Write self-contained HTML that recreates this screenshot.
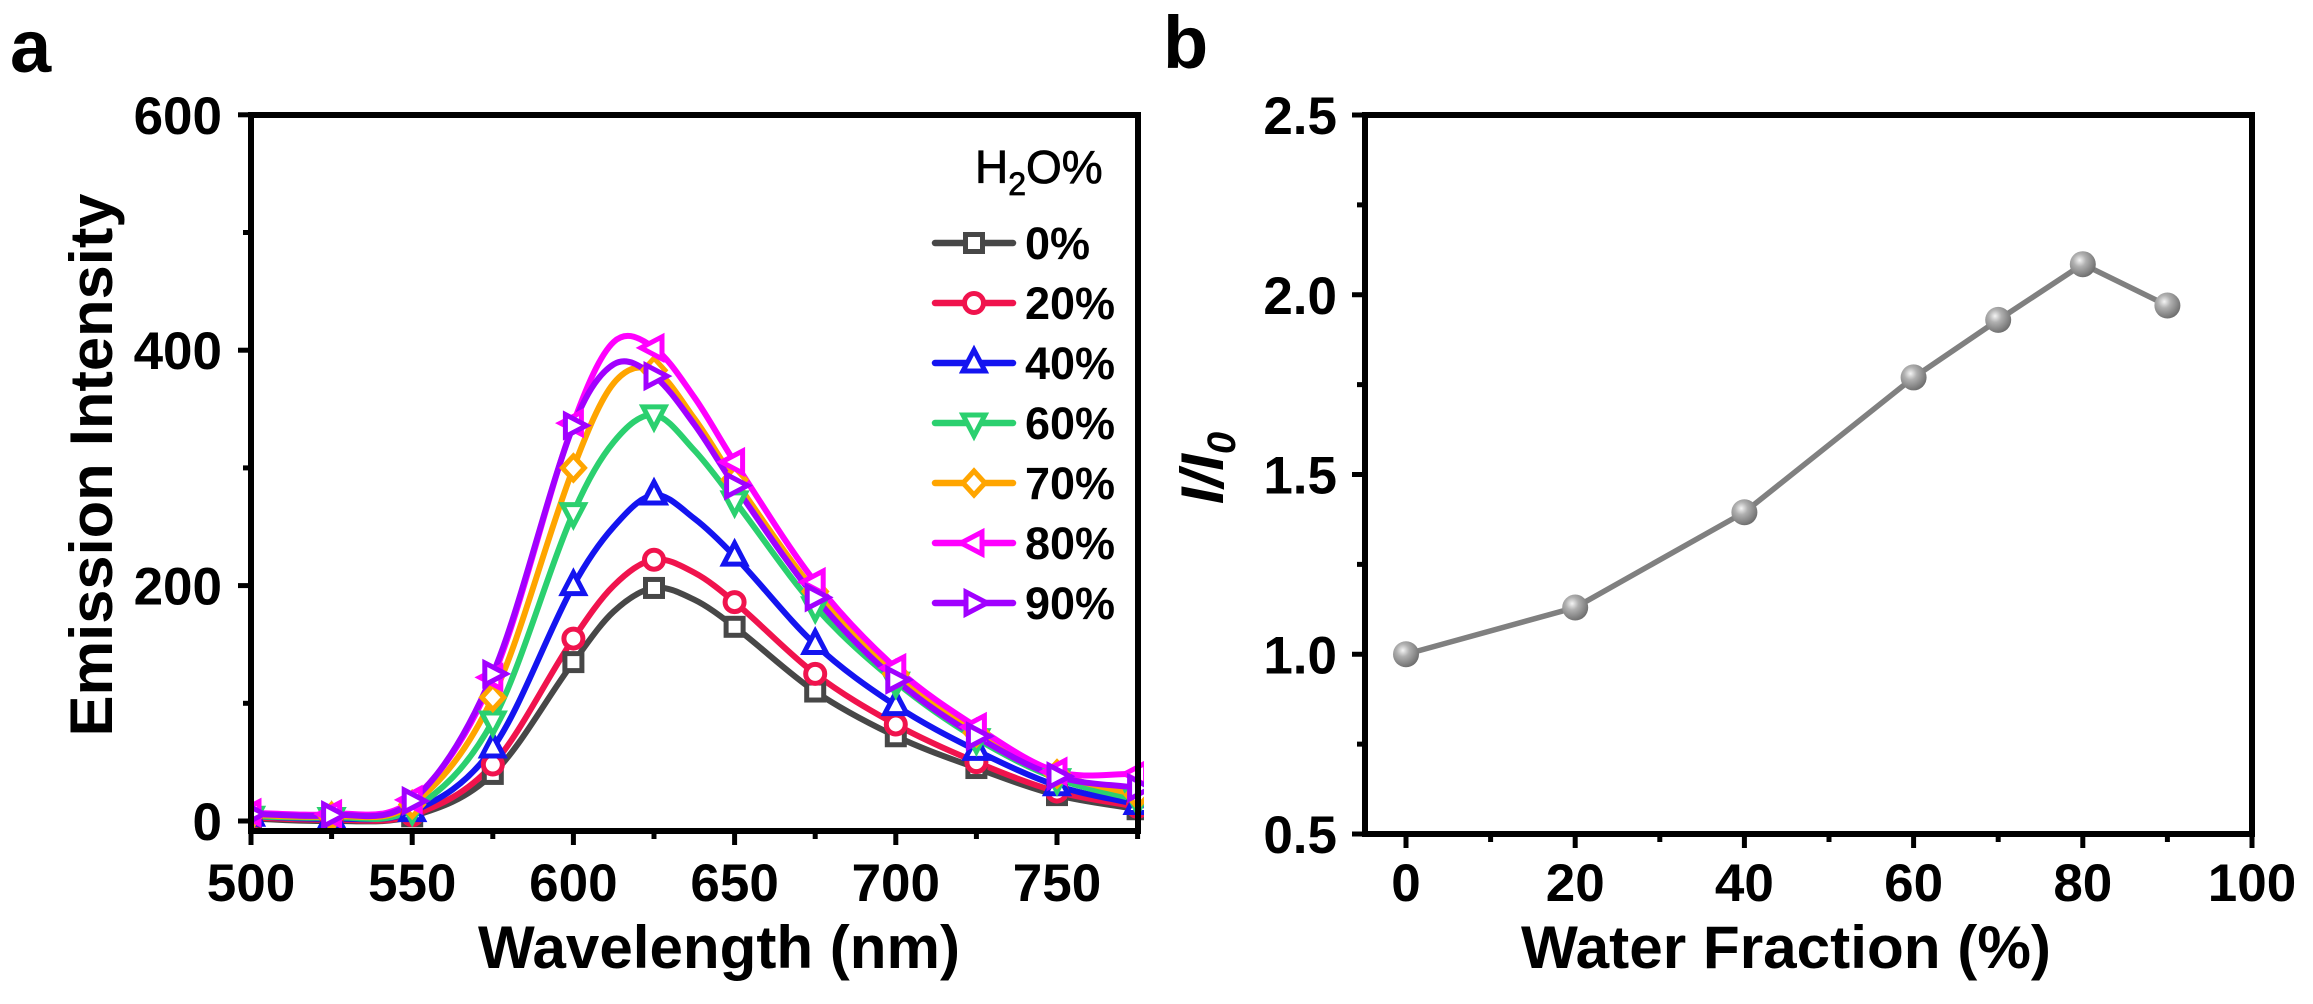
<!DOCTYPE html>
<html><head><meta charset="utf-8"><style>
html,body{margin:0;padding:0;background:#fff;}
svg{display:block;font-family:"Liberation Sans",Arial,sans-serif;}
</style></head><body>
<svg id="s" width="2313" height="1004" viewBox="0 0 2313 1004" xmlns="http://www.w3.org/2000/svg">
<defs>
<radialGradient id="ball" cx="0.38" cy="0.35" r="0.7">
<stop offset="0" stop-color="#f4f4f4"/><stop offset="0.35" stop-color="#b0b0b0"/><stop offset="1" stop-color="#6a6a6a"/>
</radialGradient>
</defs>
<g id="plot"></g>
<text x="10" y="72" font-size="74" font-weight="bold">a</text>
<text x="1163" y="68" font-size="74" font-weight="bold">b</text>
<text x="719" y="968" font-size="60" font-weight="bold" text-anchor="middle" textLength="482" lengthAdjust="spacingAndGlyphs">Wavelength (nm)</text>
<text transform="translate(112,465) rotate(-90)" font-size="60" font-weight="bold" text-anchor="middle" textLength="543" lengthAdjust="spacingAndGlyphs">Emission Intensity</text>
<text x="1786" y="968" font-size="60" font-weight="bold" text-anchor="middle" textLength="530" lengthAdjust="spacingAndGlyphs">Water Fraction (%)</text>
<text transform="translate(1223,468) rotate(-90)" font-size="60" font-weight="bold" font-style="italic" text-anchor="middle">I/I<tspan font-size="40" dy="12">0</tspan></text>
<text x="975" y="183" font-size="46" stroke="#000" stroke-width="0.8">H<tspan font-size="32" dy="12">2</tspan><tspan dy="-12">O%</tspan></text>
</svg>
<script>
const NS="http://www.w3.org/2000/svg";
const g=document.getElementById("plot");
function el(t,a,p){const e=document.createElementNS(NS,t);for(const k in a)e.setAttribute(k,a[k]);(p||g).appendChild(e);return e;}
function txt(x,y,s,a){const e=el("text",Object.assign({x:x,y:y,"font-size":53,"font-weight":"bold"},a||{}));e.textContent=s;return e;}
const ax={l:251,r:1138,t:115,b:831};
const X=w=>251+(w-500)*161.2/50, Y=v=>821-v*1.177;
for(let v=0;v<=600;v+=100){const y=Y(v);el("line",{x1:ax.l-(v%200?8:13),x2:ax.l,y1:y,y2:y,stroke:"#000","stroke-width":5});if(v%200==0)txt(222,y+19,String(v),{"text-anchor":"end"});}
for(let w=500;w<=775;w+=25){const x=X(w);el("line",{x1:x,x2:x,y1:ax.b,y2:ax.b+(w%50?8:14),stroke:"#000","stroke-width":5});if(w%50==0)txt(x,901,String(w),{"text-anchor":"middle"});}
const wl=[500,525,550,575,600,625,650,675,700,725,750,775];
const S=[
 {c:"#474747",m:"sq",v:[2,0,4,40,135,198,165,110,72,45,22,10],e:[178,188]},
 {c:"#f0134d",m:"ci",v:[3,1,5,48,155,222,186,125,82,50,25,12],e:[200,211]},
 {c:"#1414f0",m:"tu",v:[4,2,8,62,200,277,225,150,98,60,30,14],e:[250,257]},
 {c:"#2bd06f",m:"td",v:[4,3,10,85,262,345,272,182,118,70,36,18],e:[322,315]},
 {c:"#ffa500",m:"di",v:[5,4,14,105,300,383,290,195,125,75,40,22],e:[372,342]},
 {c:"#ff00ff",m:"tl",v:[7,6,18,122,338,402,305,203,130,80,42,40],e:[407,360]},
 {c:"#a100ff",m:"tr",v:[6,5,17,125,336,378,285,190,120,72,38,28],e:[388,337]}
];
function marker(type,x,y,c,p){
 const a={fill:"#fff",stroke:c,"stroke-width":5};const r=9.5;
 if(type=="sq")el("rect",Object.assign({x:x-r+1,y:y-r+1,width:2*r-2,height:2*r-2},a),p);
 else if(type=="ci")el("circle",Object.assign({cx:x,cy:y,r:r},a),p);
 else{let pts;
  if(type=="tu")pts=[[0,-13],[11,8],[-11,8]];
  if(type=="td")pts=[[0,13],[11,-8],[-11,-8]];
  if(type=="tl")pts=[[-13,0],[8,-11],[8,11]];
  if(type=="tr")pts=[[13,0],[-8,-11],[-8,11]];
  if(type=="di")pts=[[0,-12],[11,0],[0,12],[-11,0]];
  el("polygon",Object.assign({points:pts.map(q=>(x+q[0])+","+(y+q[1])).join(" ")},a),p);}
}
function cr(pts){let d="M"+pts[0][0]+","+pts[0][1];
 for(let i=0;i<pts.length-1;i++){const p0=pts[Math.max(0,i-1)],p1=pts[i],p2=pts[i+1],p3=pts[Math.min(pts.length-1,i+2)];
  const h1=(p2[0]-p1[0])/3;
  const m1=(p2[1]-p0[1])/(p2[0]-p0[0]||1), m2=(p3[1]-p1[1])/(p3[0]-p1[0]||1);
  d+=" C"+(p1[0]+h1)+","+(p1[1]+m1*h1)+" "+(p2[0]-h1)+","+(p2[1]-m2*h1)+" "+p2[0]+","+p2[1];}
 return d;}
const cg=el("g",{});
const clip=el("clipPath",{id:"ca"},document.querySelector("defs"));el("rect",{x:ax.l,y:ax.t,width:ax.r-ax.l+6,height:ax.b-ax.t},clip);
cg.setAttribute("clip-path","url(#ca)");
S.forEach(s=>{
 let pts=wl.map((w,i)=>[w,s.v[i]]);
 pts.push([612.5,s.e[0]]);pts.push([637.5,s.e[1]]);
 pts.sort((a,b)=>a[0]-b[0]);
 el("path",{d:cr(pts.map(p=>[X(p[0]),Y(p[1])])),fill:"none",stroke:s.c,"stroke-width":6,"stroke-linejoin":"round"},cg);
});
S.forEach(s=>{wl.forEach((w,i)=>marker(s.m,X(w),Y(s.v[i]),s.c,cg));});
el("rect",{x:ax.l,y:ax.t,width:ax.r-ax.l,height:ax.b-ax.t,fill:"none",stroke:"#000","stroke-width":6});
const lab=["0%","20%","40%","60%","70%","80%","90%"];
S.forEach((s,i)=>{const y=243+60*i;el("line",{x1:935,x2:1013,y1:y,y2:y,stroke:s.c,"stroke-width":6.5,"stroke-linecap":"round"});marker(s.m,974,y,s.c);txt(1025,y+16,lab[i],{"font-size":45});});
const bx={l:1365,r:2252,t:115,b:834};
const XB=w=>1406+w*8.46, YB=v=>834-(v-0.5)*359.5;
for(let v=0.5;v<=2.501;v+=0.25){const y=YB(v);const maj=Math.abs(v*2-Math.round(v*2))<0.01;el("line",{x1:bx.l-(maj?13:8),x2:bx.l,y1:y,y2:y,stroke:"#000","stroke-width":5});if(maj)txt(1337,y+19,v.toFixed(1),{"text-anchor":"end"});}
for(let w=0;w<=100;w+=10){const x=XB(w);el("line",{x1:x,x2:x,y1:bx.b,y2:bx.b+(w%20?8:14),stroke:"#000","stroke-width":5});if(w%20==0)txt(x,901,String(w),{"text-anchor":"middle"});}
const bd=[[0,1.0],[20,1.13],[40,1.395],[60,1.77],[70,1.93],[80,2.085],[90,1.97]];
el("polyline",{points:bd.map(p=>XB(p[0])+","+YB(p[1])).join(" "),fill:"none",stroke:"#808080","stroke-width":5.5});
bd.forEach(p=>el("circle",{cx:XB(p[0]),cy:YB(p[1]),r:13,fill:"url(#ball)"}));
el("rect",{x:bx.l,y:bx.t,width:bx.r-bx.l,height:bx.b-bx.t,fill:"none",stroke:"#000","stroke-width":6});
</script>
</body></html>
